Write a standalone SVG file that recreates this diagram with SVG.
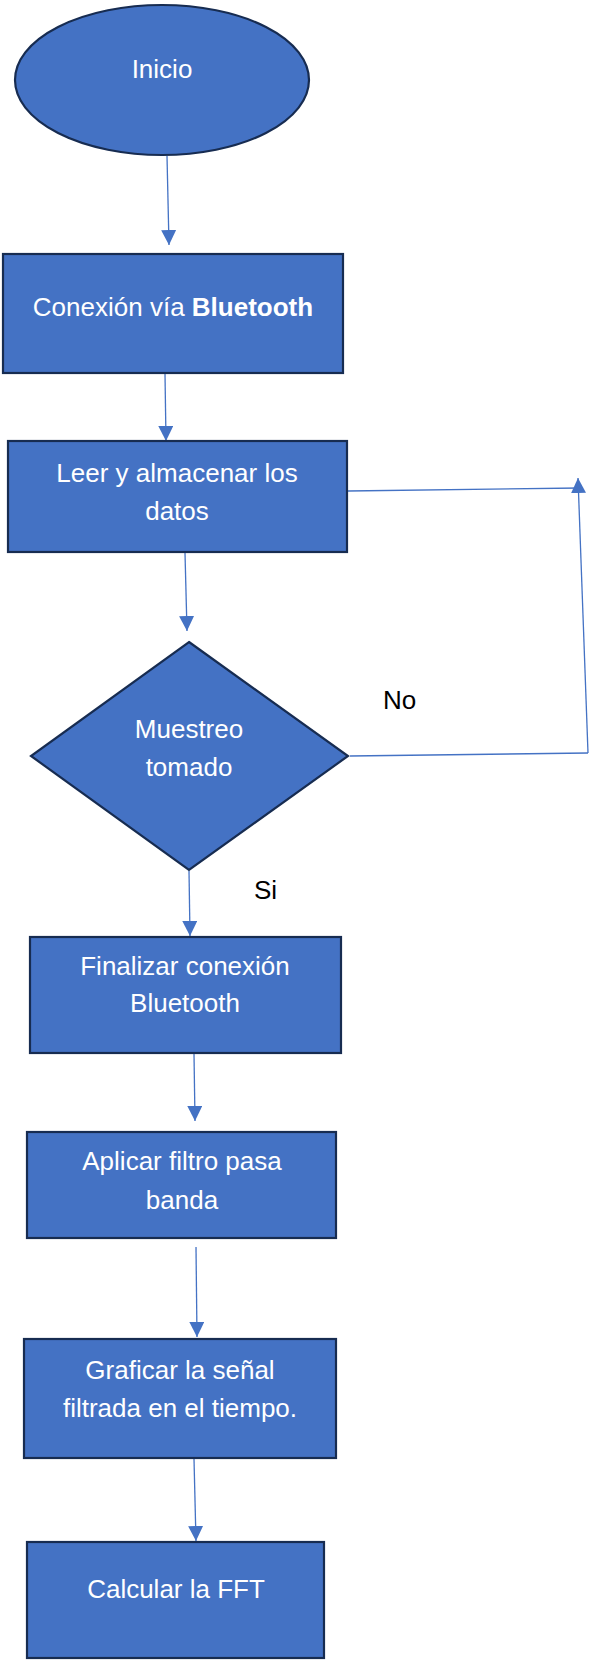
<svg xmlns="http://www.w3.org/2000/svg" width="590" height="1665" viewBox="0 0 590 1665">
<style>
.n{fill:#4472C4;stroke:#172C51;stroke-width:2.2}
.t{font-family:"Liberation Sans",Arial,sans-serif;font-size:26px;fill:#FFFFFF;text-anchor:middle}
.l{font-family:"Liberation Sans",Arial,sans-serif;font-size:26px;fill:#000000}
.c{fill:none;stroke:#4472C4;stroke-width:1.3}
</style>
<defs>
<marker id="ah" viewBox="0 0 10 10" refX="10" refY="5" markerWidth="15" markerHeight="15" markerUnits="userSpaceOnUse" orient="auto">
<path d="M0,0 L10,5 L0,10 z" fill="#4472C4"/>
</marker>
</defs>
<rect width="590" height="1665" fill="#FFFFFF"/>
<g id="connectors">
<line class="c" x1="167" y1="156" x2="169" y2="245" marker-end="url(#ah)"/>
<line class="c" x1="165" y1="374" x2="166" y2="441" marker-end="url(#ah)"/>
<line class="c" x1="185" y1="553" x2="187" y2="631" marker-end="url(#ah)"/>
<line class="c" x1="189" y1="871" x2="190" y2="936" marker-end="url(#ah)"/>
<line class="c" x1="194" y1="1054" x2="195" y2="1121" marker-end="url(#ah)"/>
<line class="c" x1="196" y1="1247" x2="197" y2="1337" marker-end="url(#ah)"/>
<line class="c" x1="194" y1="1459" x2="196" y2="1541" marker-end="url(#ah)"/>
<line class="c" x1="350" y1="756" x2="588" y2="753"/>
<line class="c" x1="588" y1="753" x2="578" y2="478" marker-end="url(#ah)"/>
<line class="c" x1="348" y1="491" x2="580" y2="488"/>
</g>
<g id="inicio">
<ellipse class="n" cx="162" cy="80" rx="147" ry="75"/>
<text class="t" x="162" y="78">Inicio</text>
</g>
<g id="conexion">
<rect class="n" x="3" y="254" width="340" height="119"/>
<text class="t" x="173" y="316">Conexión vía <tspan font-weight="bold">Bluetooth</tspan></text>
</g>
<g id="leer">
<rect class="n" x="8" y="441" width="339" height="111"/>
<text class="t" x="177" y="482">Leer y almacenar los</text>
<text class="t" x="177" y="520">datos</text>
</g>
<g id="muestreo">
<polygon class="n" points="189,642 348,756 189,870 31,756"/>
<text class="t" x="189" y="738">Muestreo</text>
<text class="t" x="189" y="776">tomado</text>
</g>
<g id="labels">
<text class="l" x="383" y="709">No</text>
<text class="l" x="254" y="899">Si</text>
</g>
<g id="finalizar">
<rect class="n" x="30" y="937" width="311" height="116"/>
<text class="t" x="185" y="975">Finalizar conexión</text>
<text class="t" x="185" y="1012">Bluetooth</text>
</g>
<g id="aplicar">
<rect class="n" x="27" y="1132" width="309" height="106"/>
<text class="t" x="182" y="1170">Aplicar filtro pasa</text>
<text class="t" x="182" y="1209">banda</text>
</g>
<g id="graficar">
<rect class="n" x="24" y="1339" width="312" height="119"/>
<text class="t" x="180" y="1379">Graficar la señal</text>
<text class="t" x="180" y="1417">filtrada en el tiempo.</text>
</g>
<g id="fft">
<rect class="n" x="27" y="1542" width="297" height="116"/>
<text class="t" x="176" y="1598">Calcular la FFT</text>
</g>
</svg>
